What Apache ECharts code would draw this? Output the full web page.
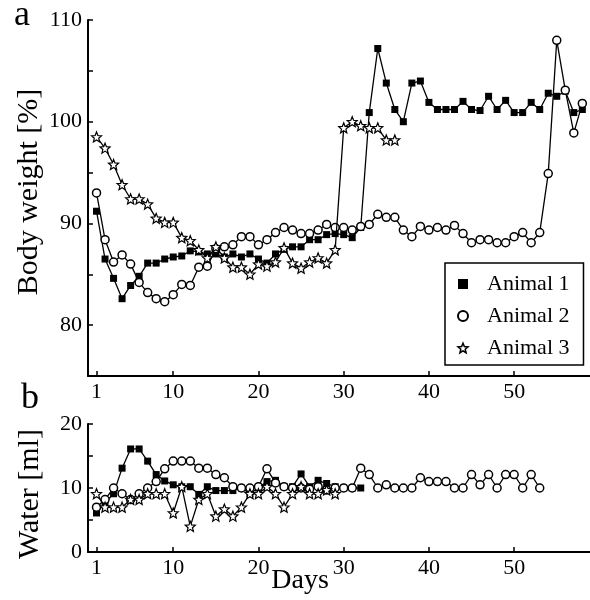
<!DOCTYPE html>
<html>
<head>
<meta charset="utf-8">
<script src="https://cdn.jsdelivr.net/npm/echarts@6/dist/echarts.min.js"></script>
<style>
html,body{margin:0;padding:0;background:#fff;}
#chart{width:590px;height:600px;}
</style>
</head>
<body>
<div id="chart"></div>
<script>
const seriesNames = ['Animal 1', 'Animal 2', 'Animal 3'];
const days = [1,2,3,4,5,6,7,8,9,10,11,12,13,14,15,16,17,18,19,20,21,22,23,24,25,26,27,28,29,30,31,32,33,34,35,36,37,38,39,40,41,42,43,44,45,46,47,48,49,50,51,52,53,54,55,56,57,58];
const xTicks = [1, 10, 20, 30, 40, 50];
const weightTicks = [80, 85, 90, 95, 100, 105, 110];
const weightLabels = [80, 90, 100, 110];
const waterTicks = [0, 5, 10, 15, 20];
const waterLabels = [0, 10, 20];

// Body weight [%]
const weight1 = [91.2,86.5,84.6,82.6,83.9,84.8,86.1,86.1,86.5,86.7,86.8,87.3,87.2,87.0,87.0,86.7,87.0,86.7,87.0,86.5,86.1,87.0,87.45,87.7,87.7,88.4,88.4,88.9,89.0,88.9,88.6,89.6,100.9,107.2,103.8,101.2,100.0,103.8,104.0,101.9,101.2,101.2,101.2,102.0,101.2,101.1,102.5,101.2,102.1,100.9,100.9,101.9,101.2,102.8,102.5,103.0,100.9,101.2];
const weight2 = [93.0,88.4,86.2,86.9,86.0,84.2,83.2,82.6,82.3,83.0,84.0,83.9,85.7,85.8,87.5,87.7,87.9,88.7,88.7,87.9,88.4,89.1,89.6,89.35,89.0,89.0,89.35,89.9,89.6,89.6,89.35,89.7,89.9,90.9,90.6,90.6,89.35,88.7,89.7,89.35,89.6,89.35,89.8,89.0,88.1,88.4,88.4,88.1,88.1,88.7,89.1,88.1,89.1,94.9,108.0,103.1,98.9,101.8];
const weight3 = [98.5,97.4,95.8,93.8,92.4,92.4,91.9,90.5,90.1,90.1,88.6,88.3,87.4,86.6,87.7,86.6,85.7,85.7,85.0,86.0,85.8,86.2,87.6,86.1,85.6,86.2,86.6,86.1,87.4,99.4,100.0,99.6,99.4,99.4,98.2,98.2];

// Water [ml]
const water1 = [6.1,7.7,9.1,13.1,16.1,16.1,14.2,12.1,11.1,10.5,10.2,10.2,9.0,10.2,9.6,9.6,9.6,10.0,9.1,10.0,11.0,11.2,10.2,10.2,12.2,10.2,11.2,10.7,10.2,10.0,10.0,10.0];
const water2 = [7.0,8.2,10.0,9.1,8.2,9.1,10.0,11.0,13.0,14.2,14.2,14.2,13.1,13.1,12.1,11.6,10.2,10.0,10.0,10.2,13.0,10.8,10.2,10.0,10.0,9.8,10.2,9.7,10.0,10.0,10.0,13.1,12.1,10.0,10.5,10.0,10.0,10.0,11.6,11.0,11.0,11.0,10.0,10.0,12.1,10.5,12.1,10.0,12.1,12.1,10.0,12.1,10.0];
const water3 = [9.1,7.0,7.0,7.0,8.2,8.2,9.1,9.1,9.1,6.1,10.2,4.0,8.2,9.1,5.6,6.7,5.6,7.0,9.1,9.1,10.2,9.1,7.0,9.1,10.2,9.1,9.1,9.7,9.1];

const FONT = 'Liberation Serif';
const STAR = 'path://M0,-10 L2.6,-3.6 L9.51,-3.09 L4.2,1.4 L5.88,8.09 L0,4.4 L-5.88,8.09 L-4.2,1.4 L-9.51,-3.09 L-2.6,-3.6 Z';

function pairs(vals) { return vals.map((v, i) => [days[i], v]); }

const markerStyles = [
  { symbol: 'rect', symbolSize: 7, itemStyle: { color: '#000', borderColor: '#000', borderWidth: 0 } },
  { symbol: 'circle', symbolSize: 8, itemStyle: { color: '#fff', borderColor: '#000', borderWidth: 1.5 } },
  { symbol: STAR, symbolSize: 10, itemStyle: { color: '#fff', borderColor: '#000', borderWidth: 1.2 } }
];

function mkSeries(idx, vals, gi) {
  const m = markerStyles[idx];
  return {
    name: seriesNames[idx], type: 'line', xAxisIndex: gi, yAxisIndex: gi,
    data: pairs(vals), symbol: m.symbol, symbolSize: m.symbolSize,
    showAllSymbol: true, itemStyle: m.itemStyle,
    lineStyle: { color: '#000', width: 1.3 },
    emphasis: { disabled: true }, z: 2 + idx
  };
}

function xAxisDef(gi) {
  return {
    type: 'value', gridIndex: gi, min: 0, max: 58.9,
    axisLine: { show: true, onZero: false, lineStyle: { color: '#000', width: 2 } },
    axisTick: { show: true, inside: true, length: 5, customValues: xTicks, lineStyle: { color: '#000', width: 1.5 } },
    axisLabel: { customValues: xTicks, margin: 5, color: '#000', fontFamily: FONT, fontSize: 22 },
    splitLine: { show: false }
  };
}

function yAxisDef(gi, min, max, ticks, labels) {
  return {
    type: 'value', gridIndex: gi, min: min, max: max,
    axisLine: { show: true, lineStyle: { color: '#000', width: 2 } },
    axisTick: { show: true, inside: true, length: 5, customValues: ticks, lineStyle: { color: '#000', width: 1.5 } },
    axisLabel: { customValues: labels, margin: 6, color: '#000', fontFamily: FONT, fontSize: 22 },
    splitLine: { show: false }
  };
}

const chart = echarts.init(document.getElementById('chart'), null, { renderer: 'canvas' });
chart.setOption({
  animation: false,
  backgroundColor: '#fff',
  grid: [
    { left: 88, top: 20, width: 502, height: 356 },
    { left: 88, top: 424, width: 502, height: 128 }
  ],
  xAxis: [xAxisDef(0), xAxisDef(1)],
  yAxis: [yAxisDef(0, 75, 110, weightTicks, weightLabels), yAxisDef(1, 0, 20, waterTicks, waterLabels)],
  legend: {
    orient: 'vertical', left: 445, top: 263,
    borderColor: '#000', borderWidth: 1.5, padding: [10, 14, 6, 12],
    itemWidth: 10, itemHeight: 10, itemGap: 10,
    selectedMode: false,
    textStyle: { color: '#000', fontFamily: FONT, fontSize: 22, padding: [0, 0, 0, 14] },
    data: [
      { name: 'Animal 1', icon: 'rect', itemStyle: { color: '#000', borderWidth: 0 } },
      { name: 'Animal 2', icon: 'circle', itemStyle: { color: '#fff', borderColor: '#000', borderWidth: 2 } },
      { name: 'Animal 3', icon: STAR, itemStyle: { color: '#fff', borderColor: '#000', borderWidth: 1.5 } }
    ]
  },
  graphic: [
    { type: 'text', x: 14, y: 16, style: { text: 'a', fontFamily: FONT, fontSize: 36, fill: '#000', align: 'left', verticalAlign: 'middle' } },
    { type: 'text', x: 21, y: 399, style: { text: 'b', fontFamily: FONT, fontSize: 36, fill: '#000', align: 'left', verticalAlign: 'middle' } },
    { type: 'text', x: 29, y: 192, rotation: Math.PI / 2, style: { text: 'Body weight [%]', fontFamily: FONT, fontSize: 30, fill: '#000', align: 'center', verticalAlign: 'middle' } },
    { type: 'text', x: 30, y: 494, rotation: Math.PI / 2, style: { text: 'Water [ml]', fontFamily: FONT, fontSize: 30, fill: '#000', align: 'center', verticalAlign: 'middle' } },
    { type: 'text', x: 300, y: 581, style: { text: 'Days', fontFamily: FONT, fontSize: 28, fill: '#000', align: 'center', verticalAlign: 'middle' } }
  ],
  series: [
    mkSeries(0, weight1, 0), mkSeries(1, weight2, 0), mkSeries(2, weight3, 0),
    mkSeries(0, water1, 1), mkSeries(1, water2, 1), mkSeries(2, water3, 1)
  ]
});
</script>
</body>
</html>
